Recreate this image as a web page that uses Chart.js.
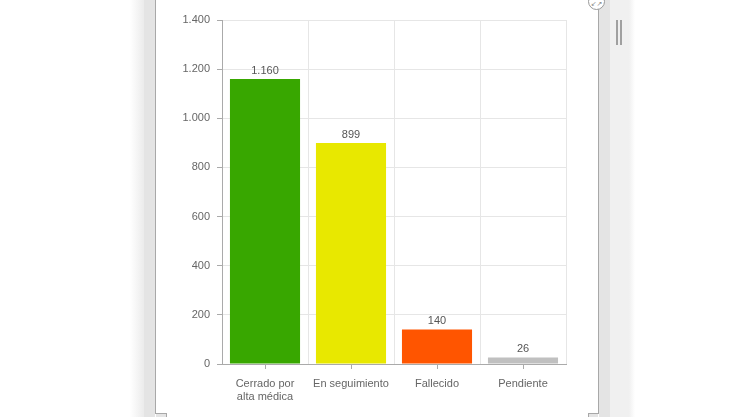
<!DOCTYPE html>
<html>
<head>
<meta charset="utf-8">
<script src="https://cdn.jsdelivr.net/npm/chart.js@4.4.0/dist/chart.umd.min.js"></script>
<style>
  body { margin: 0; background: #fff; width: 743px; height: 417px; overflow: hidden; position: relative; }
  .d { position: absolute; }
  #chart { position: absolute; left: 0; top: 0; }
</style>
</head>
<body>
  <!-- window frame around the chart -->
  <div class="d" style="left:130px;top:0;width:14px;height:417px;background:linear-gradient(to right,#fff,#ebebeb)"></div>
  <div class="d" style="left:144px;top:0;width:11px;height:417px;background:#e4e4e4"></div>
  <div class="d" style="left:155px;top:0;width:1px;height:414px;background:#a8a8a8"></div>
  <div class="d" style="left:155px;top:413px;width:12px;height:1px;background:#a8a8a8"></div>
  <div class="d" style="left:166px;top:413px;width:1px;height:4px;background:#a8a8a8"></div>
  <div class="d" style="left:598px;top:0;width:1px;height:414px;background:#a8a8a8"></div>
  <div class="d" style="left:588px;top:413px;width:11px;height:1px;background:#a8a8a8"></div>
  <div class="d" style="left:588px;top:413px;width:1px;height:4px;background:#a8a8a8"></div>
  <div class="d" style="left:589px;top:414px;width:9px;height:3px;background:#e4e4e4"></div>
  <div class="d" style="left:156px;top:414px;width:10px;height:3px;background:#e4e4e4"></div>
  <div class="d" style="left:599px;top:0;width:11px;height:417px;background:#e4e4e4"></div>
  <div class="d" style="left:610px;top:0;width:19px;height:417px;background:#f0f0f0"></div>
  <div class="d" style="left:629px;top:0;width:6px;height:417px;background:linear-gradient(to right,#f0f0f0,#fff)"></div>
  <div class="d" style="left:616px;top:20px;width:2px;height:25px;background:#a0a0a0"></div>
  <div class="d" style="left:620px;top:20px;width:2px;height:25px;background:#a0a0a0"></div>
  <div class="d" style="left:588px;top:-7px;width:15px;height:15px;border:1px solid #999;border-radius:50%;background:#fff;font:7px 'DejaVu Sans';color:#888;text-align:center;line-height:20px">&#8601;&#8599;</div>

  <canvas id="chart" width="743" height="417"></canvas>

<script>
const categories = [['Cerrado por', 'alta médica'], 'En seguimiento', 'Fallecido', 'Pendiente'];
const values = [1160, 899, 140, 26];
const barColors = ['#38a700', '#e8e800', '#ff5500', '#c0c0c0'];
const yTicks = { min: 0, max: 1400, step: 200 };

// thousands with a dot, like the original
function fmt(n) {
    return String(n).replace(/\B(?=(\d{3})+(?!\d))/g, '.');
}

const FONT = "'Liberation Sans', Arial, sans-serif";

// value above each bar + tick marks under category centres
const barExtras = {
    id: 'barExtras',
    afterDatasetsDraw(chart) {
        const ctx = chart.ctx;
        const meta = chart.getDatasetMeta(0);
        ctx.save();
        ctx.font = '11px ' + FONT;
        ctx.fillStyle = '#555';
        ctx.textAlign = 'center';
        ctx.textBaseline = 'bottom';
        meta.data.forEach((bar, i) => {
            ctx.fillText(fmt(values[i]), bar.x, bar.y - 3);
        });
        const x = chart.scales.x;
        ctx.strokeStyle = '#aaa';
        ctx.lineWidth = 1;
        for (let i = 0; i < categories.length; i++) {
            const px = Math.round(x.getPixelForValue(i)) + 0.5;
            ctx.beginPath();
            ctx.moveTo(px, x.top);
            ctx.lineTo(px, x.top + 5);
            ctx.stroke();
        }
        ctx.restore();
    }
};

new Chart(document.getElementById('chart'), {
    type: 'bar',
    data: {
        labels: categories,
        datasets: [{
            data: values,
            backgroundColor: barColors,
            borderWidth: 0,
            categoryPercentage: 1,
            barPercentage: 0.815
        }]
    },
    options: {
        responsive: false,
        devicePixelRatio: 1,
        animation: false,
        layout: { padding: { left: 0, right: 177, top: 20, bottom: 0 } },
        plugins: {
            legend: { display: false },
            tooltip: { enabled: false }
        },
        scales: {
            x: {
                afterFit: (s) => { s.height = 53; },
                grid: { color: '#e6e6e6', offset: true, drawTicks: false },
                border: { color: '#aaa' },
                ticks: { color: '#666', font: { family: FONT, size: 11 }, padding: 13, maxRotation: 0 }
            },
            y: {
                min: yTicks.min,
                max: yTicks.max,
                afterFit: (s) => { s.width = 222; },
                grid: { color: '#e6e6e6', tickColor: '#aaa', tickLength: 5 },
                border: { color: '#aaa' },
                ticks: {
                    stepSize: yTicks.step,
                    color: '#666',
                    font: { family: FONT, size: 11 },
                    padding: 7,
                    callback: (v) => fmt(v)
                }
            }
        }
    },
    plugins: [barExtras]
});
</script>
</body>
</html>
